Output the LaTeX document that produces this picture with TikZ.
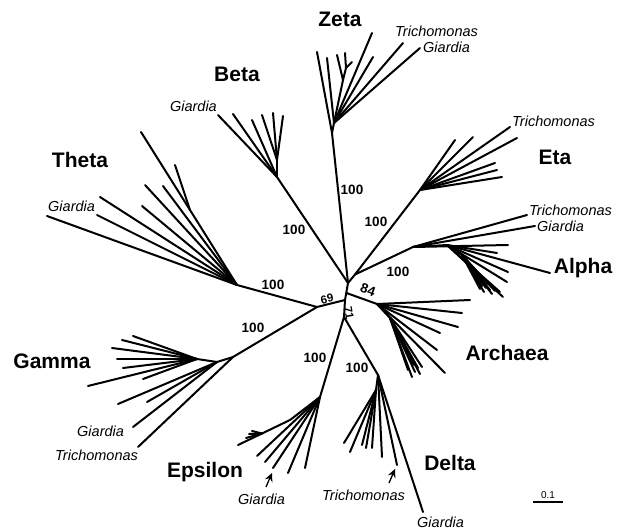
\documentclass[tikz,border=0pt]{standalone}
\usepackage{fontspec}
\setmainfont{Liberation Sans}
\usetikzlibrary{arrows.meta}
\tikzset{
  branch/.style={line width=2pt,line cap=round,line join=round},
  clade/.style={font=\fontsize{21}{24}\selectfont\bfseries,inner sep=0pt,anchor=base},
  taxon/.style={font=\fontsize{14.5}{17}\selectfont\itshape,inner sep=0pt},
  boot/.style={font=\fontsize{13.5}{16}\selectfont\bfseries,inner sep=0pt},
  smallboot/.style={font=\fontsize{11.5}{14}\selectfont\bfseries,inner sep=0pt},
  pointer/.style={line width=1.3pt,-{Stealth[length=8.5pt,width=8pt,inset=3pt]}}
}

\begin{document}
\begin{tikzpicture}[x=1pt,y=-1pt]
  \useasboundingbox (0,0) rectangle (642,529);
  % backbone
  \coordinate (a) at (348,283);
  \coordinate (ea) at (355,274.5);
  \coordinate (b) at (346.5,293);
  \coordinate (c) at (345,300);
  \coordinate (d) at (344,317);
  \coordinate (tg) at (317,307);
  \coordinate (ar) at (377,304);
  \coordinate (ze) at (332,133);
  \coordinate (be) at (277,177);
  \coordinate (et) at (420,190);
  \coordinate (al) at (413,247);
  \coordinate (th) at (237,285);
  \coordinate (ga) at (233,357);
  \coordinate (ep) at (320,397);
  \coordinate (de) at (378,375);
  \draw[branch] (ze) -- (a) -- (c) -- (d);
  \draw[branch] (be) -- (a) -- (ea) -- (et);
  \draw[branch] (ea) -- (al);
  \draw[branch] (b) -- (ar);
  \draw[branch] (th) -- (tg) -- (c);
  \draw[branch] (tg) -- (ga);
  \draw[branch] (ep) -- (d) -- (de);

  % Zeta
  \coordinate (ze1) at (334,123);
  \coordinate (ze2) at (343,80);
  \coordinate (ze3) at (346,68);
  \coordinate (zeT) at (403,43);
  \coordinate (zeG) at (420,48);
  \draw[branch] (ze) -- (317,52) coordinate (ze0-1);
  \draw[branch] (ze) -- (ze1) -- (ze2) -- (ze3);
  \draw[branch] (ze1) -- (zeT);
  \draw[branch] (ze1) -- (zeG);
  \foreach \x/\y [count=\i] in {327/58,372/33,373/57}
    \draw[branch] (ze1) -- (\x,\y) coordinate (ze1-\i);
  \draw[branch] (ze2) -- (337,55) coordinate (ze2-1);
  \foreach \x/\y [count=\i] in {345/53,352/62}
    \draw[branch] (ze3) -- (\x,\y) coordinate (ze3-\i);

  % Beta
  \coordinate (be2) at (277,160);
  \coordinate (beG) at (218,115);
  \draw[branch] (be) -- (beG);
  \draw[branch] (be) -- (be2);
  \foreach \x/\y [count=\i] in {233/114,252/120}
    \draw[branch] (be) -- (\x,\y) coordinate (be-\i);
  \foreach \x/\y [count=\i] in {262/115,273/113,283/116}
    \draw[branch] (be2) -- (\x,\y) coordinate (be2-\i);

  % Eta
  \coordinate (etT) at (510,127);
  \draw[branch] (et) -- (etT);
  \foreach \x/\y [count=\i] in {455/140,473/137,517/138,495/163,497/170,502/177}
    \draw[branch] (et) -- (\x,\y) coordinate (et-\i);

  % Alpha
  \coordinate (al2) at (447,245);
  \coordinate (al3) at (462,255);
  \coordinate (alT) at (527,215);
  \coordinate (alG) at (535,226);
  \draw[branch] (al) -- (alT);
  \draw[branch] (al) -- (alG);
  \draw[branch] (al) -- (al2) -- (al3);
  \draw[branch] (al) -- (508,245) coordinate (al-1);
  \foreach \x/\y [count=\i] in {497/253,508/272,550/273,507/282,503/297,500/292}
    \draw[branch] (al2) -- (\x,\y) coordinate (al2-\i);
  \foreach \x/\y [count=\i] in {478/282,482/286,486/288,490/290,484/292,492/294,480/289,488/284,495/291}
    \draw[branch] (al3) -- (\x,\y) coordinate (al3-\i);

  % Archaea
  \coordinate (ar2) at (390,318);
  \draw[branch] (ar) -- (ar2);
  \foreach \x/\y [count=\i] in {470/300,462/313,458/327,440/333,437/350,445/373}
    \draw[branch] (ar) -- (\x,\y) coordinate (ar-\i);
  \foreach \x/\y [count=\i] in {412/377,415/372,418/368,422/367,408/370,420/374,414/365}
    \draw[branch] (ar2) -- (\x,\y) coordinate (ar2-\i);

  % Theta
  \coordinate (th2) at (190,210);
  \coordinate (thG) at (47,216);
  \draw[branch] (th) -- (thG);
  \draw[branch] (th) -- (th2);
  \foreach \x/\y [count=\i] in {97/215,100/197,142/206,145/185,163/186}
    \draw[branch] (th) -- (\x,\y) coordinate (th-\i);
  \foreach \x/\y [count=\i] in {141/132,175/165}
    \draw[branch] (th2) -- (\x,\y) coordinate (th2-\i);

  % Gamma
  \coordinate (ga2) at (217,362);
  \coordinate (ga3) at (197,359);
  \coordinate (gaT) at (138,447);
  \coordinate (gaG) at (133,427);
  \draw[branch] (ga) -- (gaT);
  \draw[branch] (ga) -- (ga2) -- (ga3);
  \draw[branch] (ga2) -- (gaG);
  \foreach \x/\y [count=\i] in {147/402,118/404}
    \draw[branch] (ga2) -- (\x,\y) coordinate (ga2-\i);
  \foreach \x/\y [count=\i] in {133/336,122/340,112/348,117/359,123/368,143/379,88/386}
    \draw[branch] (ga3) -- (\x,\y) coordinate (ga3-\i);

  % Epsilon
  \coordinate (ep2) at (290,420);
  \coordinate (ep3) at (262,433.5);
  \coordinate (epG) at (273,468);
  \draw[branch] (ep) -- (epG);
  \draw[branch] (ep) -- (ep2) -- (ep3) -- (238,445) coordinate (ep3-0);
  \foreach \x/\y [count=\i] in {305/468,288/473,265/462,257/456}
    \draw[branch] (ep) -- (\x,\y) coordinate (ep-\i);
  \foreach \x/\y [count=\i] in {246/438,249/434,252/431}
    \draw[branch] (ep3) -- (\x,\y) coordinate (ep3-\i);

  % Delta
  \coordinate (de2) at (376,390);
  \coordinate (deT) at (397,465);
  \coordinate (deG) at (423,512);
  \draw[branch] (de) -- (deG);
  \draw[branch] (de) -- (deT);
  \draw[branch] (de) -- (382,457) coordinate (de-1);
  \draw[branch] (de) -- (de2);
  \foreach \x/\y [count=\i] in {372/448,366/448,362/445,350/452,344/443}
    \draw[branch] (de2) -- (\x,\y) coordinate (de2-\i);

  % arrows to the two tips
  \coordinate (epA) at (266,487);
  \coordinate (epB) at (272,473);
  \coordinate (deA) at (389,483);
  \coordinate (deB) at (395,469);
  \draw[pointer] (epA) -- (epB);
  \draw[pointer] (deA) -- (deB);

  % bootstrap values
  \node[boot] (bZe) at (352,190) {100};
  \node[boot] (bBe) at (294,230) {100};
  \node[boot] (bTh) at (273,285) {100};
  \node[boot] (bEt) at (376,222) {100};
  \node[boot] (bAl) at (398,272) {100};
  \node[boot] (bGa) at (253,328) {100};
  \node[boot] (bEp) at (315,358) {100};
  \node[boot] (bDe) at (357,368) {100};
  \node[smallboot,rotate=12] (b69) at (327,299) {69};
  \node[boot,rotate=-20] (b84) at (368,290) {84};
  \node[smallboot,rotate=-80] (b71) at (349,313) {71};

  % clade names
  \node[clade] (lZe) at (340,27) {Zeta};
  \node[clade] (lBe) at (237,82) {Beta};
  \node[clade] (lTh) at (80,168) {Theta};
  \node[clade] (lEt) at (555,165) {Eta};
  \node[clade] (lAl) at (583,273) {Alpha};
  \node[clade] (lAr) at (507,360) {Archaea};
  \node[clade] (lGa) at (52,368) {Gamma};
  \node[clade] (lEp) at (205,477) {Epsilon};
  \node[clade] (lDe) at (450,470) {Delta};

  % taxa
  \node[taxon,anchor=base west] (tZeT) at (395,37) {Trichomonas};
  \node[taxon,anchor=base west] (tZeG) at (423,53) {Giardia};
  \node[taxon,anchor=base east] (tBeG) at (217,112) {Giardia};
  \node[taxon,anchor=base west] (tEtT) at (512,127) {Trichomonas};
  \node[taxon,anchor=base west] (tAlT) at (529,216) {Trichomonas};
  \node[taxon,anchor=base west] (tAlG) at (537,232) {Giardia};
  \node[taxon,anchor=base west] (tThG) at (48,212) {Giardia};
  \node[taxon,anchor=base west] (tGaG) at (77,436) {Giardia};
  \node[taxon,anchor=base west] (tGaT) at (55,460) {Trichomonas};
  \node[taxon,anchor=base west] (tEpG) at (238,504) {Giardia};
  \node[taxon,anchor=base west] (tDeT) at (322,500) {Trichomonas};
  \node[taxon,anchor=base west] (tDeG) at (417,527) {Giardia};

  % scale bar
  \coordinate (sL) at (533,502);
  \coordinate (sR) at (563,502);
  \draw[line width=1.4pt] (sL) -- (sR);
  \node[font=\fontsize{10}{12}\selectfont,inner sep=0pt,anchor=base] (sLab) at (548,498) {0.1};
\end{tikzpicture}
\end{document}
